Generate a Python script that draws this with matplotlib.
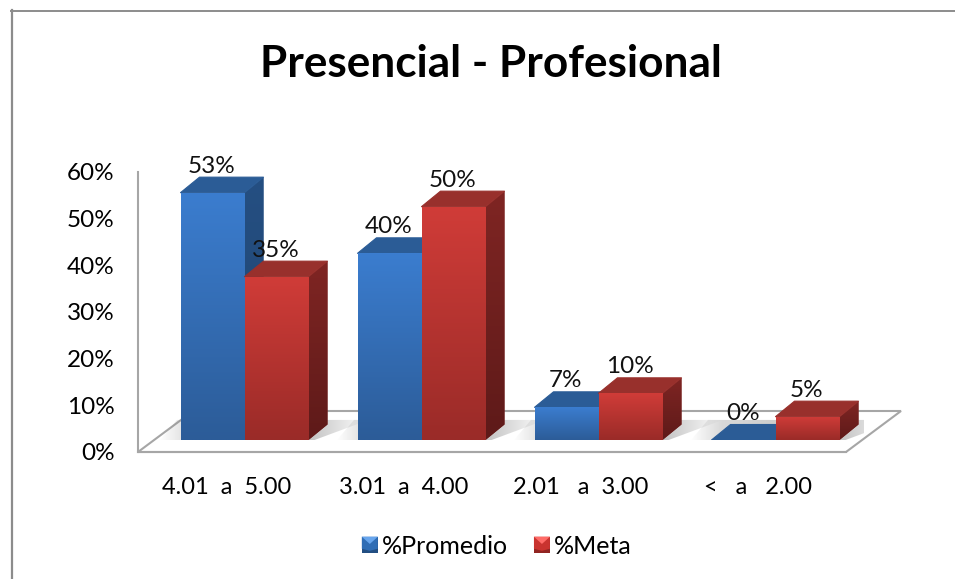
import numpy as np
import matplotlib
matplotlib.use('Agg')
import matplotlib.pyplot as plt
from matplotlib.colors import LinearSegmentedColormap
from matplotlib.legend_handler import HandlerBase
from matplotlib.lines import Line2D
from matplotlib.patches import Patch, Polygon, Rectangle

plt.rcParams['font.family'] = ['Lato', 'DejaVu Sans']

categories = ['4.01  a  5.00', '3.01  a  4.00', '2.01   a  3.00', '<   a   2.00']
promedio = [53, 40, 7, 0]
meta = [35, 50, 10, 5]
y_ticks = [0, 10, 20, 30, 40, 50, 60]
series_names = ['%Promedio', '%Meta']

W, H = 955, 579
BLUE = dict(front_top='#3b7dcf', front_bot='#2c5c98', side_top='#254f82', side_bot='#1f4570', top='#2b5c96')
RED = dict(front_top='#d03c38', front_bot='#9a2b28', side_top='#7f2523', side_bot='#5e1a19', top='#98302c')
FONT = 17.5


def px_axes(left, top, right, bottom):
    return fig.add_axes([left / W, 1 - bottom / H, (right - left) / W, (bottom - top) / H])


def gradient(ax, patch, extent, c1, c2):
    # vertical gradient clipped to the patch
    cmap = LinearSegmentedColormap.from_list('g', [c1, c2])
    im = ax.imshow(np.linspace(0, 1, 128).reshape(-1, 1), cmap=cmap, extent=extent,
                   aspect='auto', origin='upper', zorder=patch.get_zorder(), interpolation='bilinear')
    im.set_clip_path(patch)


def draw_bar(ax, x, val, width, colors, z):
    dx, dy = 19 / 177, 15.5 / 4.667
    l, r = x - width / 2, x + width / 2
    side = Polygon([(r, 0), (r + dx, dy), (r + dx, val + dy), (r, val)], closed=True,
                   fc=colors['side_top'], ec='none', zorder=z)
    top = Polygon([(l, val), (l + dx, val + dy), (r + dx, val + dy), (r, val)], closed=True,
                  fc=colors['top'], ec=colors['top'], lw=0.8, joinstyle='round', zorder=z + 0.1)
    ax.add_patch(side)
    ax.add_patch(top)
    if val > 0:
        gradient(ax, side, (r, r + dx, 0, val + dy), colors['side_top'], colors['side_bot'])
        bar = ax.bar(x, val, width, color=colors['front_top'], zorder=z + 0.2)[0]
        gradient(ax, bar, (l, r, 0, val), colors['front_top'], colors['front_bot'])


class BevelHandler(HandlerBase):
    def create_artists(self, legend, orig, xd, yd, width, height, fontsize, trans):
        s = 11.5
        x0, y0 = (width - s) / 2 - xd, (height - s) / 2 - yd
        c = orig.get_facecolor()
        light = tuple(min(1, v + 0.22) for v in c[:3])
        dark = tuple(v * 0.72 for v in c[:3])
        base = Rectangle((x0, y0), s, s, fc=dark, ec='none', transform=trans)
        mid = Polygon([(x0, y0 + s), (x0 + s, y0 + s), (x0 + s, y0 + 0.25 * s), (x0 + s / 2, y0 + 0.12 * s),
                       (x0, y0 + 0.25 * s)], fc=c, ec='none', transform=trans)
        tri = Polygon([(x0, y0 + s), (x0 + s, y0 + s), (x0 + s / 2, y0 + s * 0.55)], fc=light, ec='none', transform=trans)
        return [base, mid, tri]


fig = plt.figure(figsize=(W / 100, H / 100), dpi=100, facecolor='white')

# chart border, only the top and left edges show
fig.add_artist(Line2D([11 / W, 1], [1 - 10.5 / H] * 2, color='#8c8c8c', lw=1.4, zorder=-1))
fig.add_artist(Line2D([11.5 / W] * 2, [0, 1 - 10 / H], color='#8c8c8c', lw=1.6, zorder=-1))

# front plane: axis lines and labels
ax0 = px_axes(138, 172, 846, 452)
ax0.set_xlim(-0.5, 3.5)
ax0.set_ylim(0, 60)
ax0.patch.set_alpha(0)
for s in ['top', 'right']:
    ax0.spines[s].set_visible(False)
for s in ['left', 'bottom']:
    ax0.spines[s].set_color('#a6a6a6')
    ax0.spines[s].set_linewidth(1.5)
ax0.set_xticks(range(len(categories)), categories, fontsize=17)
ax0.set_yticks(y_ticks, ['{}%'.format(v) for v in y_ticks], fontsize=FONT)
ax0.tick_params(length=0)
ax0.tick_params(axis='x', pad=18)
ax0.tick_params(axis='y', pad=17)

# floor
dx_floor, dy_floor = 55 / 177, 41 / 4.667
floor = Polygon([(-0.5, 0), (3.5, 0), (3.5 + dx_floor, dy_floor), (-0.5 + dx_floor, dy_floor)],
                closed=True, fc='white', ec='#a6a6a6', lw=1.5, clip_on=False, zorder=1)
ax0.add_patch(floor)

# bars plane, sits 18 px right and 12 px up from the front plane
ax = px_axes(156, 160, 864, 440)
ax.set_xlim(-0.5, 3.5)
ax.set_ylim(0, 60)
ax.axis('off')
ax.patch.set_alpha(0)

x = np.arange(len(categories))
width = 64 / 177

# soft shadow on the floor behind each group
shadow = np.zeros((1, 128, 4))
shadow[..., :3] = 0.5
shadow[..., 3] = np.interp(np.linspace(0, 1, 128), [0, 0.15, 0.7, 1], [0, 0.3, 0.5, 0])
for xi in x:
    l, r = xi - width - 0.12, xi + width + 0.34
    im = ax.imshow(shadow, extent=(l, r, -0.2, 4.3), aspect='auto', zorder=1.5, interpolation='bilinear')
    clip = Polygon([(l, -0.2), (xi + width + 0.02, -0.2), (r, 4.3), (l + 0.1, 4.3)], closed=True,
                   transform=ax.transData)
    im.set_clip_path(clip)
ax.set_xlim(-0.5, 3.5)
ax.set_ylim(0, 60)

for xi, a, b in zip(x, promedio, meta):
    draw_bar(ax, xi - width / 2, a, width, BLUE, 2 + xi)
    draw_bar(ax, xi + width / 2, b, width, RED, 2.5 + xi)
    for xb, v in [(xi - width / 2, a), (xi + width / 2, b)]:
        ax.annotate('{}%'.format(v), (xb, v), xytext=(-0.5, 19), textcoords='offset points',
                    ha='center', va='center', fontsize=FONT, color='#111111', zorder=10)

fig.suptitle('Presencial - Profesional', fontsize=31.8, fontweight='bold', x=491 / W, y=1 - 64 / H, va='center')

handles = [Patch(fc='#2f6db5', label=series_names[0]), Patch(fc='#c9332f', label=series_names[1])]
fig.legend(handles=handles, loc='center', bbox_to_anchor=(496.5 / W, 1 - 546 / H), ncol=2, frameon=False,
           fontsize=18, handlelength=0.7, handleheight=0.7, handletextpad=0.14, columnspacing=1.0,
           handler_map={Patch: BevelHandler()})

fig.savefig('out.png', dpi=100)
